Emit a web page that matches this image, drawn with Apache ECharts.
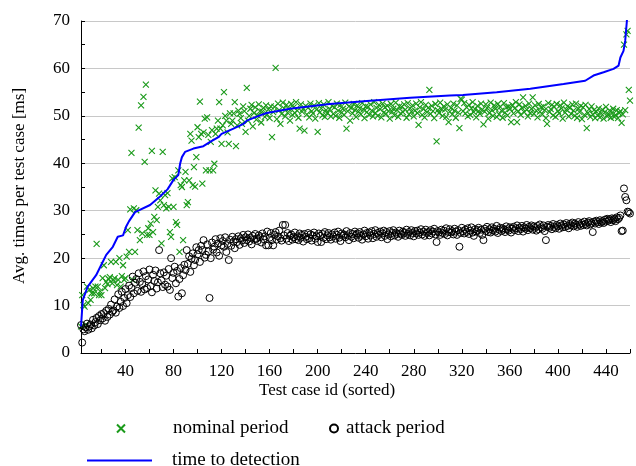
<!DOCTYPE html>
<html>
<head>
<meta charset="utf-8">
<script src="https://cdn.jsdelivr.net/npm/echarts@6/dist/echarts.min.js"></script>
<style>
html,body{margin:0;padding:0;background:#fff;}
#chart{width:636px;height:466px;}
</style>
</head>
<body>
<div id="chart"></div>
<script>
// Test case ids start at 3 and increase by 1
const firstId = 3;

// nominal period (green crosses), ids 3..460
const nominal = [
  5.6, 12.2, 10.1, 9.8, 6.0, 14.0, 10.5, 13.3, 11.2, 12.6,
  13.7, 12.6, 14.0, 23.0, 14.0, 12.2, 13.0, 12.2, 15.8, 18.5,
  13.7, 15.0, 14.5, 15.6, 16.0, 19.2, 14.7, 15.4, 15.8, 19.2,
  14.3, 15.4, 20.0, 14.0, 16.2, 18.5, 15.4, 15.8, 20.3, 25.9,
  21.3, 30.3, 42.2, 15.4, 30.5, 21.3, 30.1, 25.9, 47.5, 23.8,
  52.2, 25.2, 54.0, 40.3, 56.6, 24.9, 26.3, 24.9, 27.3, 42.6,
  25.5, 28.7, 34.3, 28.0, 30.8, 33.6, 32.2, 23.1, 42.4, 31.2,
  33.3, 30.5, 33.7, 30.8, 25.5, 24.5, 36.8, 30.8, 37.1, 27.6,
  27.0, 38.5, 21.3, 35.4, 35.0, 23.8, 36.4, 38.2, 31.2, 31.8,
  36.4, 46.2, 44.8, 35.4, 39.2, 35.1, 41.3, 47.6, 45.5, 53.0,
  46.2, 35.7, 46.5, 49.4, 38.5, 49.7, 46.0, 38.5, 44.5, 47.0,
  38.5, 39.9, 46.2, 47.3, 49.0, 52.9, 47.3, 44.1, 48.0, 55.0,
  50.0, 49.0, 46.5, 44.1, 50.5, 48.3, 49.0, 50.5, 52.9, 43.6,
  48.0, 51.1, 50.4, 49.5, 48.3, 52.0, 51.0, 46.6, 55.9, 49.0,
  50.0, 51.5, 52.3, 47.8, 50.6, 51.8, 49.2, 50.1, 52.4, 51.0,
  48.6, 50.9, 51.7, 49.8, 52.2, 50.3, 51.3, 49.5, 52.0, 45.5,
  50.8, 51.9, 60.1, 49.3, 52.6, 51.2, 48.3, 50.4, 52.8, 51.6,
  49.9, 52.3, 50.7, 51.4, 49.0, 52.5, 50.2, 51.8, 50.6, 52.9,
  51.1, 49.6, 47.3, 52.4, 50.9, 51.5, 46.9, 52.1, 50.3, 51.7,
  49.7, 52.6, 51.0, 50.5, 52.2, 49.4, 51.3, 46.6, 52.7, 50.8,
  51.6, 50.1, 52.4, 49.8, 51.2, 50.6, 52.9, 51.4, 49.9, 52.1,
  50.4, 51.8, 50.0, 52.6, 51.1, 49.6, 52.3, 50.7, 51.5, 50.2,
  52.8, 47.3, 51.0, 52.0, 49.0, 51.7, 50.5, 52.5, 51.2, 49.8,
  52.2, 50.9, 51.6, 50.3, 52.7, 51.3, 49.5, 52.0, 50.8, 51.9,
  50.2, 52.4, 51.1, 49.9, 52.9, 50.6, 51.7, 50.0, 52.3, 51.4,
  49.7, 52.6, 50.7, 51.8, 50.4, 52.1, 51.0, 49.4, 52.5, 50.9,
  51.5, 50.1, 52.8, 51.2, 49.8, 52.0, 50.5, 51.9, 50.8, 52.4,
  51.3, 49.6, 52.7, 50.3, 51.6, 50.9, 52.2, 49.9, 51.1, 52.6,
  50.6, 48.1, 51.8, 52.9, 50.2, 51.4, 49.7, 52.3, 50.8, 51.7,
  55.5, 50.4, 52.1, 51.0, 49.5, 52.5, 44.6, 51.2, 50.6, 52.8,
  51.5, 50.0, 52.0, 51.3, 49.8, 52.4, 48.7, 50.9, 51.7, 50.3,
  52.6, 51.1, 49.6, 52.2, 50.7, 47.4, 53.6, 53.4, 51.0, 52.7,
  50.5, 51.8, 49.9, 52.3, 50.2, 51.6, 52.9, 50.8, 51.4, 49.7,
  52.1, 51.0, 50.4, 52.6, 51.3, 48.2, 50.9, 52.4, 51.7, 49.4,
  50.6, 52.8, 51.2, 50.0, 52.2, 51.5, 49.8, 52.5, 50.3, 51.9,
  51.1, 49.6, 52.7, 50.7, 51.8, 50.1, 52.0, 51.4, 48.7, 52.3,
  50.5, 51.6, 52.9, 48.7, 51.0, 52.4, 50.2, 51.7, 53.9, 50.8,
  52.1, 51.3, 49.9, 52.6, 50.6, 51.5, 53.9, 50.4, 52.2, 51.1,
  49.7, 52.5, 50.9, 51.8, 50.3, 52.0, 51.2, 49.5, 48.3, 52.7,
  50.8, 51.4, 52.3, 50.1, 51.9, 49.8, 52.5, 51.0, 50.5, 52.2,
  51.6, 49.4, 52.8, 50.7, 51.3, 52.0, 49.9, 51.7, 50.4, 52.4,
  51.1, 50.0, 52.6, 49.6, 51.5, 50.8, 52.1, 49.3, 51.8, 50.2,
  52.3, 47.4, 50.6, 51.4, 49.8, 52.0, 50.3, 51.2, 49.5, 50.9,
  50.1, 51.6, 49.7, 50.5, 51.3, 49.4, 50.8, 51.9, 49.9, 50.4,
  51.1, 49.6, 50.7, 51.5, 49.8, 50.2, 51.2, 49.5, 50.6, 51.0,
  48.5, 50.3, 65.0, 51.2, 67.2, 67.9, 55.5, 53.2
];

// attack period (black circles), ids 3..460
const attack = [
  5.9, 2.2, 5.0, 4.6, 5.4, 6.2, 4.9, 5.6, 6.0, 5.2,
  7.0, 5.8, 6.5, 7.4, 6.1, 7.8, 6.9, 8.2, 7.3, 8.4,
  6.8, 8.9, 7.6, 9.3, 8.1, 10.2, 8.7, 9.0, 11.3, 8.5,
  9.8, 12.4, 9.5, 10.8, 12.9, 9.9, 11.6, 13.5, 10.5, 12.2,
  14.2, 11.8, 13.7, 16.1, 12.6, 14.8, 15.6, 13.1, 16.8, 15.0,
  12.9, 14.5, 17.2, 13.4, 16.2, 13.7, 15.5, 17.6, 14.1, 12.8,
  16.5, 15.2, 17.4, 13.6, 14.9, 21.7, 16.8, 15.3, 13.9, 17.0,
  14.4, 16.3, 14.0, 17.7, 13.3, 20.0, 15.8, 16.9, 18.2, 14.7,
  17.3, 11.9, 15.6, 17.9, 12.6, 16.4, 18.6, 17.5, 21.7, 18.8,
  20.4, 17.1, 19.9, 21.0, 18.5, 19.6, 22.3, 20.8, 21.7, 19.2,
  22.6, 21.7, 23.8, 20.1, 20.7, 22.9, 21.4, 11.6, 20.0, 23.3,
  21.8, 22.4, 24.0, 21.2, 23.1, 20.5, 24.2, 22.7, 23.6, 22.4,
  24.4, 21.3, 23.0, 19.6, 23.9, 22.6, 24.5, 23.5, 22.1, 24.0,
  23.4, 24.6, 22.8, 24.2, 23.7, 24.9, 23.2, 24.4, 23.8, 25.0,
  23.5, 24.3, 22.9, 24.7, 23.9, 25.1, 24.1, 23.6, 24.8, 24.4,
  23.3, 25.2, 24.0, 24.6, 22.7, 25.6, 22.7, 24.3, 25.3, 23.8,
  22.7, 24.9, 25.5, 23.9, 24.6, 25.8, 24.2, 23.7, 27.0, 24.8,
  27.0, 24.1, 25.3, 23.6, 24.7, 25.0, 23.9, 24.4, 25.4, 24.0,
  24.6, 23.8, 25.2, 24.3, 24.9, 23.5, 25.1, 24.5, 24.0, 25.3,
  24.2, 25.0, 23.7, 24.8, 25.4, 24.1, 24.6, 23.4, 25.2, 24.7,
  23.4, 25.1, 24.3, 25.5, 24.0, 24.8, 25.3, 24.4, 23.9, 25.0,
  24.6, 25.4, 24.1, 24.9, 25.6, 24.3, 23.6, 25.2, 24.7, 25.0,
  24.4, 25.7, 24.8, 23.8, 25.3, 24.5, 25.1, 24.2, 25.6, 24.9,
  25.2, 24.3, 25.5, 24.7, 23.9, 25.0, 25.8, 24.6, 25.3, 24.1,
  25.4, 24.8, 25.7, 24.2, 25.1, 25.9, 24.5, 25.3, 24.9, 25.6,
  24.4, 25.2, 25.8, 24.7, 25.5, 24.0, 25.0, 25.7, 24.6, 25.3,
  25.9, 24.8, 25.4, 25.1, 24.5, 25.8, 25.2, 24.9, 25.6, 25.3,
  24.7, 26.0, 25.1, 25.5, 24.8, 25.9, 25.3, 24.6, 25.7, 25.2,
  25.8, 24.9, 25.4, 26.1, 25.0, 25.6, 24.7, 26.0, 25.3, 25.5,
  24.8, 25.9, 25.2, 25.6, 26.2, 25.0, 23.4, 25.7, 25.4, 24.9,
  26.0, 25.3, 25.8, 25.1, 26.3, 24.8, 25.5, 26.1, 25.4, 25.7,
  25.0, 26.2, 25.6, 24.9, 25.9, 22.4, 25.3, 26.4, 25.7, 25.2,
  26.0, 25.5, 26.3, 25.1, 25.8, 26.5, 25.4, 24.7, 26.1, 25.6,
  25.9, 26.4, 25.3, 26.0, 24.9, 23.8, 26.2, 25.7, 26.6, 25.5,
  26.1, 25.4, 26.5, 25.8, 26.2, 25.6, 26.8, 25.3, 26.0, 26.4,
  25.7, 26.3, 26.0, 25.5, 26.7, 26.1, 25.8, 26.5, 25.4, 26.2,
  26.6, 25.9, 26.3, 26.9, 25.7, 26.4, 26.1, 26.8, 25.6, 26.5,
  26.2, 27.0, 25.9, 26.6, 26.3, 26.9, 26.0, 26.7, 26.4, 25.8,
  26.8, 26.1, 27.1, 26.5, 26.2, 26.9, 25.7, 23.8, 26.6, 27.0,
  26.4, 26.8, 26.1, 27.2, 26.6, 26.3, 27.0, 26.7, 26.2, 27.3,
  26.9, 26.5, 27.1, 26.6, 27.4, 26.8, 26.3, 27.2, 26.9, 27.5,
  26.7, 27.3, 27.0, 26.6, 27.6, 27.1, 26.8, 27.4, 27.0, 27.7,
  27.2, 26.9, 27.5, 27.8, 27.1, 27.4, 25.5, 27.7, 27.3, 27.9,
  27.6, 27.2, 28.0, 27.5, 27.8, 27.4, 28.1, 27.7, 28.3, 27.9,
  28.2, 27.6, 28.4, 28.0, 28.3, 27.8, 28.6, 28.2, 28.5, 29.0,
  25.7, 25.8, 34.7, 32.9, 32.2, 29.8, 29.7, 29.4
];

// time to detection (blue line), sampled along the sorted curve
const detectionX = [3, 4.5, 8.6, 15.6, 19.7, 24, 29.5, 33.6, 38, 40.5, 43, 48, 60.5, 68.8, 75, 80, 84, 85.5, 87, 89.6, 96.6, 104.9, 110.5, 117.4, 120, 129.9, 138.2, 141, 152, 157.7, 177, 210, 243.7, 277, 310, 321, 349, 377, 404.7, 422.7, 429.6, 438, 446.3, 450.5, 452, 454.6, 456, 457.4, 458];
const detectionY = [5.6, 11.2, 14.0, 16.4, 18.5, 20.7, 22.4, 24.5, 24.8, 26.6, 27.8, 29.7, 31.2, 33.0, 34.5, 36.5, 37.5, 39.9, 41.3, 42.4, 43.1, 43.6, 44.5, 45.5, 46.2, 47.3, 48.3, 49.0, 50.1, 50.6, 51.5, 52.5, 53.2, 53.8, 54.3, 54.4, 55.0, 55.7, 56.7, 57.4, 58.5, 59.2, 59.9, 60.6, 62.3, 63.7, 65.8, 70.0, 72.0];

const xTickValues = [20, 40, 60, 80, 100, 120, 140, 160, 180, 200, 220, 240, 260, 280, 300, 320, 340, 360, 380, 400, 420, 440, 460];
const xTickLabels = [40, 80, 120, 160, 200, 240, 280, 320, 360, 400, 440];

const seriesNames = ['nominal period', 'attack period', 'time to detection'];
const xTitle = 'Test case id (sorted)';
const yTitle = 'Avg. times per test case [ms]';

const GREEN = '#1a9a1a';
const BLUE = '#0000ff';
const FONT = 'Liberation Serif';
const CROSS = 'path://M0,0L10,10M10,0L0,10';

const chart = echarts.init(document.getElementById('chart'), null, {renderer: 'canvas'});

const option = {
  animation: false,
  backgroundColor: '#fff',
  grid: {left: 81, right: 6, top: 21, bottom: 113, containLabel: false},
  xAxis: {
    type: 'value', min: 3, max: 460,
    axisLine: {show: true, onZero: false, lineStyle: {color: '#000', width: 1}},
    axisTick: {show: true, inside: true, length: 4, customValues: xTickValues, lineStyle: {color: '#000'}},
    axisLabel: {customValues: xTickLabels, margin: 10, color: '#000', fontFamily: FONT, fontSize: 17},
    splitLine: {show: false}
  },
  yAxis: {
    type: 'value', min: 0, max: 70, interval: 10,
    axisLine: {show: true, lineStyle: {color: '#000', width: 1}},
    axisTick: {show: true, inside: true, length: 4, lineStyle: {color: '#000'}},
    minorTick: {show: true, splitNumber: 2, length: 4, lineStyle: {color: '#000'}},
    axisLabel: {margin: 11, color: '#000', fontFamily: FONT, fontSize: 17},
    splitLine: {show: true, lineStyle: {color: '#c8c8c8', width: 1}}
  },
  legend: [
    {data: [{name: seriesNames[0], icon: CROSS}], left: 111, top: 414, itemWidth: 8, itemHeight: 8,
     textStyle: {fontFamily: FONT, fontSize: 19, color: '#000', padding: [0, 0, 0, 43]}},
    {data: [{name: seriesNames[1]}], left: 324, top: 414, itemWidth: 8, itemHeight: 8,
     textStyle: {fontFamily: FONT, fontSize: 19, color: '#000', padding: [0, 0, 0, 3]}},
    {data: [{name: seriesNames[2], icon: 'rect'}], left: 82, top: 446, itemWidth: 65, itemHeight: 2,
     textStyle: {fontFamily: FONT, fontSize: 19, color: '#000', padding: [0, 0, 0, 15]}}
  ],
  graphic: [
    {type: 'text', left: 259, top: 382, style: {text: xTitle, fontFamily: FONT, fontSize: 17, fill: '#000'}},
    {type: 'text', x: 20, y: 186, rotation: Math.PI / 2,
     style: {text: yTitle, fontFamily: FONT, fontSize: 17, fill: '#000', align: 'center', verticalAlign: 'middle'}}
  ],
  series: [
    {
      name: seriesNames[0], type: 'scatter', symbol: CROSS, symbolSize: 6,
      itemStyle: {color: 'rgba(0,0,0,0)', borderColor: GREEN, borderWidth: 1.1, opacity: 1},
      data: nominal.map((v, i) => [firstId + i, v]), z: 2
    },
    {
      name: seriesNames[1], type: 'scatter', symbol: 'circle', symbolSize: 7,
      itemStyle: {color: 'rgba(0,0,0,0)', borderColor: '#000', borderWidth: 1, opacity: 1},
      data: attack.map((v, i) => [firstId + i, v]), z: 3
    },
    {
      name: seriesNames[2], type: 'line', showSymbol: false, symbol: 'none', smooth: false,
      lineStyle: {color: BLUE, width: 2}, itemStyle: {color: BLUE},
      data: detectionX.map((x, i) => [x, detectionY[i]]), z: 4, clip: true
    }
  ]
};
chart.setOption(option);
</script>
</body>
</html>
